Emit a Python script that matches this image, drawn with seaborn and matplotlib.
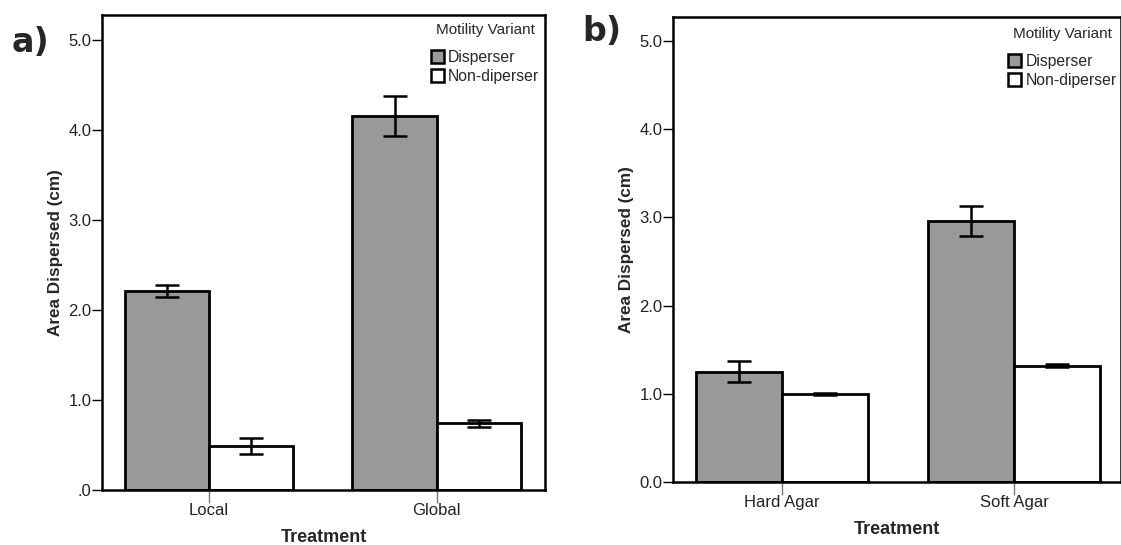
import matplotlib
matplotlib.use("Agg")
import matplotlib.pyplot as plt
import seaborn as sns
import pandas as pd
from matplotlib.patches import Patch

sns.set_theme(style="white")
plt.rcParams['font.family'] = ['Liberation Sans', 'DejaVu Sans']

variants = ["Disperser", "Non-diperser"]
colors = ["#999999", "#ffffff"]

# Panel a
cats_a = ["Local", "Global"]
mean_a_disp = [2.21, 4.16]
mean_a_non = [0.49, 0.74]
err_a_disp = [0.07, 0.22]
err_a_non = [0.09, 0.04]
yticks_a = [0, 1, 2, 3, 4, 5]
yticklabels_a = [".0", "1.0", "2.0", "3.0", "4.0", "5.0"]

# Panel b
cats_b = ["Hard Agar", "Soft Agar"]
mean_b_disp = [1.25, 2.96]
mean_b_non = [1.00, 1.32]
err_b_disp = [0.12, 0.17]
err_b_non = [0.01, 0.02]
yticks_b = [0, 1, 2, 3, 4, 5]
yticklabels_b = ["0.0", "1.0", "2.0", "3.0", "4.0", "5.0"]

fig = plt.figure(figsize=(11.21, 5.45), dpi=100)
ax_a = fig.add_axes([0.091, 0.1009, 0.395, 0.8716])
ax_b = fig.add_axes([0.6004, 0.1156, 0.3996, 0.853])


def draw(ax, cats, md, mn, ed, en, yticks, ylabels, ylim, xlim, leg_anchor):
    df = pd.DataFrame({
        "Treatment": cats + cats,
        "Variant": [variants[0]] * len(cats) + [variants[1]] * len(cats),
        "Area": md + mn,
    })
    sns.barplot(data=df, x="Treatment", y="Area", hue="Variant", order=cats,
                hue_order=variants, palette=colors, width=0.74, ax=ax,
                edgecolor="black", linewidth=2, errorbar=None, legend=False,
                saturation=1)
    for cont, errs in zip(ax.containers, [ed, en]):
        xs = [p.get_x() + p.get_width() / 2 for p in cont.patches]
        ys = [p.get_height() for p in cont.patches]
        ax.errorbar(xs, ys, yerr=errs, fmt="none", ecolor="black",
                    elinewidth=1.8, capsize=8.5, capthick=1.8, zorder=5)
    ax.set_ylim(*ylim)
    ax.set_xlim(*xlim)
    ax.set_yticks(yticks)
    ax.set_yticklabels(ylabels, fontsize=12, color="#222222")
    ax.tick_params(axis="y", direction="out", length=7, width=1, color="black", left=True, pad=0.5)
    ax.tick_params(axis="x", direction="out", length=9, width=1, color="#777777", bottom=True, pad=0.5)
    for lab in ax.get_xticklabels():
        lab.set_fontsize(12)
        lab.set_color("#222222")
    ax.set_xlabel("Treatment", fontsize=13, fontweight="bold", labelpad=8)
    ax.set_ylabel("Area Dispersed (cm)", fontsize=12.3, fontweight="bold", labelpad=4)
    for s in ax.spines.values():
        s.set_visible(True)
        s.set_color("black")
        s.set_linewidth(1.8)
    handles = [Patch(facecolor=c, edgecolor="black", linewidth=1.8) for c in colors]
    leg = ax.legend(handles, variants, title="Motility Variant", loc="upper right",
                    bbox_to_anchor=leg_anchor, frameon=False, fontsize=11.3,
                    title_fontsize=11, handlelength=0.85, handleheight=0.95,
                    handletextpad=0.25, labelspacing=0.25, borderaxespad=0.0,
                    borderpad=0.0, alignment="center")
    try:
        leg._legend_box.sep = 9
    except Exception:
        pass
    return ax


draw(ax_a, cats_a, mean_a_disp, mean_a_non, err_a_disp, err_a_non,
     yticks_a, yticklabels_a, (0, 5.28), (-0.469, 1.474), (0.988, 0.983))
draw(ax_b, cats_b, mean_b_disp, mean_b_non, err_b_disp, err_b_non,
     yticks_b, yticklabels_b, (0, 5.27), (-0.47, 1.461), (0.99, 0.978))

fig.text(0.01, 0.905, "a)", fontsize=24, fontweight="bold", family="DejaVu Sans")
fig.text(0.519, 0.925, "b)", fontsize=24, fontweight="bold", family="DejaVu Sans")

fig.savefig("out.png", dpi=100)
